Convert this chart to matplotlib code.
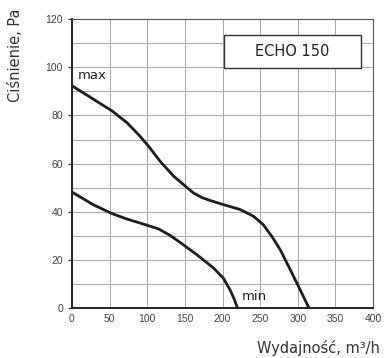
import matplotlib
matplotlib.use("Agg")
import matplotlib.pyplot as plt

# curve readings (m3/h, Pa)
max_q = [0, 28, 53, 73, 90, 101.5, 117, 135, 150, 161, 172, 183.5, 201, 223, 241, 254,
         265.5, 276.6, 290, 301, 315]
max_p = [92.3, 86.8, 81.9, 77, 71.5, 67.3, 61, 54.8, 50.8, 47.9, 46, 44.7, 43, 41, 38.2, 34.7,
         29.8, 24.3, 16, 9, 0]
min_q = [0, 28, 53, 73, 90, 115, 130, 143.6, 166, 188, 201, 210, 215, 220]
min_p = [48.2, 43, 39.3, 37, 35.4, 32.9, 30.3, 27.3, 22.2, 16.7, 12.5, 7.6, 4.2, 0]

x_ticks = [0, 50, 100, 150, 200, 250, 300, 350, 400]
y_ticks = [0, 20, 40, 60, 80, 100, 120]

fig = plt.figure(figsize=(3.86, 3.58), dpi=100)
ax = fig.add_axes([0.1865, 0.139, 0.780, 0.808])

ax.plot(max_q, max_p, color='#1e1e1e', lw=2, solid_capstyle='butt', solid_joinstyle='round')
ax.plot(min_q, min_p, color='#1e1e1e', lw=2, solid_capstyle='butt', solid_joinstyle='round')

ax.set_xlim(0, 400)
ax.set_ylim(0, 120)
ax.set_xticks(x_ticks)
ax.set_yticks(y_ticks)
ax.set_xticks(range(0, 401, 50), minor=True)
ax.set_yticks(range(0, 121, 10), minor=True)
ax.grid(True, which='both', color='#a8a8a8', lw=0.7)
ax.set_axisbelow(True)

for lab in ax.get_xticklabels() + ax.get_yticklabels():
    lab.set_family('Liberation Sans')
ax.tick_params(which='major', labelsize=7.5, colors='#444444', length=3, width=1)
ax.tick_params(axis='x', length=0, pad=4)
ax.tick_params(which='minor', length=0)

ax.spines['left'].set_linewidth(1.4)
ax.spines['bottom'].set_linewidth(1.4)
ax.spines['left'].set_color('#222222')
ax.spines['bottom'].set_color('#222222')
ax.spines['top'].set_color('#555555')
ax.spines['right'].set_color('#555555')
ax.spines['top'].set_linewidth(0.8)
ax.spines['right'].set_linewidth(0.8)

ax.text(7, 96.5, 'max', fontsize=9.5, color='#222222', va='center', ha='left')
ax.text(226, 5, 'min', fontsize=9.5, color='#222222', va='center', ha='left')

box = plt.Rectangle((202.5, 99.5), 181, 14, fill=True, fc='white', ec='#333333', lw=1, zorder=2.5)
ax.add_patch(box)
ax.text(293, 106.5, 'ECHO 150', fontsize=10.5, color='#222222', ha='center', va='center', zorder=3)

fig.text(0.04, 0.975, 'Ciśnienie, Pa', rotation=90, ha='center', va='top', fontsize=10.5, color='#333333')
fig.text(0.985, 0.005, 'Wydajność, m³/h', ha='right', va='bottom', fontsize=10.5, color='#333333')

fig.savefig('out.png', dpi=100)
